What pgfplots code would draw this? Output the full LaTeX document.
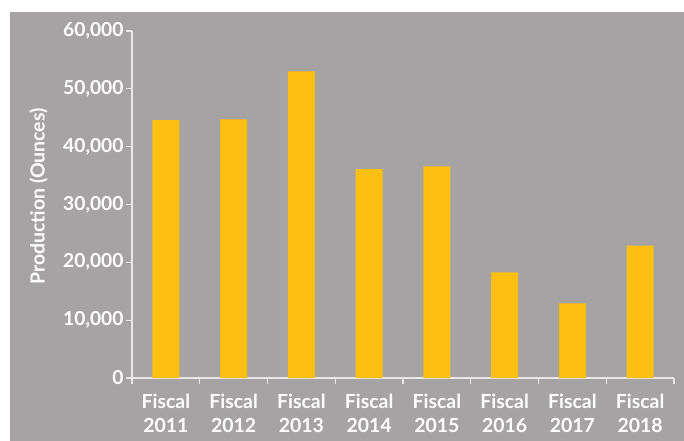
\documentclass[border=0pt]{standalone}
\usepackage{fontspec}
\setmainfont{Lato}
\usepackage{pgfplots}
\pgfplotsset{compat=1.18}
\definecolor{bg}{HTML}{A5A3A4}
\definecolor{barc}{HTML}{FDC010}
\definecolor{axl}{HTML}{E8E8E8}
\begin{document}
\begin{tikzpicture}
\useasboundingbox (0bp,0bp) rectangle (684bp,441bp);
\fill[bg] (10bp,0bp) rectangle (684bp,429bp);
\begin{axis}[
  at={(132bp,63bp)}, anchor=south west,
  scale only axis, width=542bp, height=347bp,
  xmin=-0.5, xmax=7.5, ymin=0, ymax=60000,
  axis x line*=bottom, axis y line*=left,
  axis line style={axl, line width=1.5pt, -},
  tick align=outside,
  xtick={0,...,7},
  xticklabels={Fiscal\\2011,Fiscal\\2012,Fiscal\\2013,Fiscal\\2014,Fiscal\\2015,Fiscal\\2016,Fiscal\\2017,Fiscal\\2018},
  xticklabel style={align=center, font=\bfseries\fontsize{19.5}{24}\selectfont, text=white, yshift=-7bp},
  major x tick style={draw=none},
  minor xtick={-0.5,0.5,...,7.5},
  minor tick length=6bp, major tick length=6bp,
  minor x tick style={axl, line width=1.2pt},
  ytick={0,10000,...,60000},
  major y tick style={axl, line width=1.2pt},
  yticklabel style={font=\bfseries\fontsize{19.3}{20}\selectfont, text=white, xshift=1bp},
  scaled y ticks=false,
  /pgf/number format/.cd, 1000 sep={,}, assume math mode=true, /pgfplots/.cd,
  ylabel={Production (Ounces)},
  ylabel style={font=\bfseries\fontsize{19.5}{22}\selectfont, text=white, at={(axis description cs:-0.1725,0.523)}, anchor=center},
  clip=false,
]
\addplot[ybar, bar width=0.4, fill=barc, draw=none] coordinates {
(0,44600) (1,44700) (2,53000) (3,36100) (4,36600) (5,18250) (6,12900) (7,22900)
};
\end{axis}
\end{tikzpicture}
\end{document}
